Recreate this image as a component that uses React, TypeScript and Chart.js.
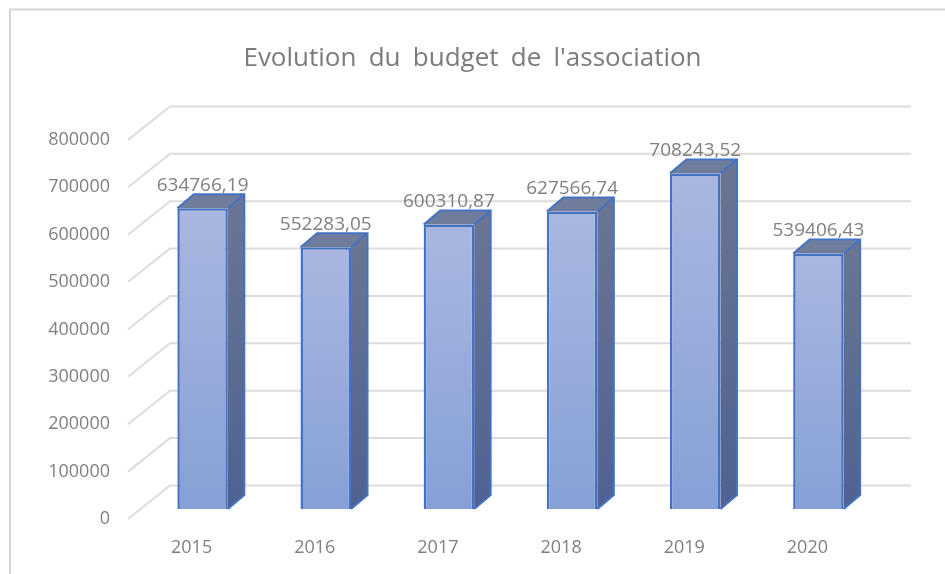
import React, { useEffect, useRef } from "react";
import { Chart, registerables } from "chart.js";

Chart.register(...registerables);

const years = ["2015", "2016", "2017", "2018", "2019", "2020"];
const budget = [634766.19, 552283.05, 600310.87, 627566.74, 708243.52, 539406.43];
const titleText = "Evolution du budget de l'association";

const FONT = "'Open Sans', 'Noto Sans', sans-serif";
const TEXT = "#808080";
const GRID = "#dcdcdc";
const EDGE = "#4472c4";

const frame3d = {
  id: "frame3d",
  beforeDraw(chart: any) {
    const { ctx } = chart;
    ctx.save();
    ctx.strokeStyle = "#d6d6d6";
    ctx.lineWidth = 2;
    ctx.beginPath();
    ctx.moveTo(10, 574);
    ctx.lineTo(10, 9.5);
    ctx.lineTo(945, 9.5);
    ctx.stroke();
    ctx.restore();
    // The reference title has wide gaps between its words.
    ctx.wordSpacing = "5.5px";
  },
  beforeDatasetsDraw(chart: any) {
    const { ctx, scales } = chart;
    ctx.wordSpacing = "0px";
    const y = scales.y;
    ctx.save();
    ctx.lineWidth = 2;
    ctx.strokeStyle = GRID;
    y.ticks.forEach((t: any) => {
      const p = y.getPixelForValue(t.value);
      ctx.beginPath();
      ctx.moveTo(128, p + 10);
      ctx.lineTo(170, p - 23.5);
      ctx.lineTo(911, p - 23.5);
      ctx.stroke();
    });
    // 3D faces of each bar
    const dx = 16.5;
    const dy = 14;
    chart.getDatasetMeta(0).data.forEach((bar: any) => {
      const l = bar.x - bar.width / 2;
      const r = bar.x + bar.width / 2;
      const top = bar.y;
      const base = bar.base;
      const side = ctx.createLinearGradient(0, top - dy, 0, base);
      side.addColorStop(0, "#6b7694");
      side.addColorStop(1, "#4f6292");
      ctx.fillStyle = side;
      ctx.beginPath();
      ctx.moveTo(r, top);
      ctx.lineTo(r + dx, top - dy);
      ctx.lineTo(r + dx, base - dy);
      ctx.lineTo(r, base);
      ctx.closePath();
      ctx.fill();
      ctx.fillStyle = "#707c9c";
      ctx.beginPath();
      ctx.moveTo(l, top);
      ctx.lineTo(l + dx, top - dy);
      ctx.lineTo(r + dx, top - dy);
      ctx.lineTo(r, top);
      ctx.closePath();
      ctx.fill();
      ctx.strokeStyle = EDGE;
      ctx.lineWidth = 2;
      ctx.beginPath();
      ctx.moveTo(l, top);
      ctx.lineTo(l + dx, top - dy);
      ctx.lineTo(r + dx, top - dy);
      ctx.lineTo(r + dx, base - dy);
      ctx.lineTo(r, base);
      ctx.moveTo(r, top);
      ctx.lineTo(r + dx, top - dy);
      ctx.stroke();
    });
    ctx.restore();
  },
  afterDatasetsDraw(chart: any) {
    const { ctx } = chart;
    ctx.save();
    ctx.font = `19px ${FONT}`;
    ctx.fillStyle = TEXT;
    ctx.textAlign = "center";
    ctx.textBaseline = "middle";
    chart.getDatasetMeta(0).data.forEach((bar: any, i: number) => {
      ctx.fillText(budget[i].toFixed(2).replace(".", ","), bar.x, bar.y - 23);
    });
    ctx.restore();
  },
};

export default function App() {
  const ref = useRef<HTMLCanvasElement>(null);
  useEffect(() => {
    document.body.style.margin = "0";
    document.body.style.background = "#ffffff";
    const chart = new Chart(ref.current as HTMLCanvasElement, {
      type: "bar",
      data: {
        labels: years,
        datasets: [
          {
            data: budget,
            yAxisID: "y",
            barPercentage: 0.41,
            categoryPercentage: 1,
            borderColor: EDGE,
            borderWidth: 2.5,
            backgroundColor: (c: any) => {
              const ch = c.chart;
              if (!ch.chartArea || c.dataIndex === undefined) return "#9aabdc";
              const y = ch.scales.y;
              const g = ch.ctx.createLinearGradient(0, y.getPixelForValue(c.raw), 0, y.getPixelForValue(0));
              g.addColorStop(0, "#a9b7e0");
              g.addColorStop(1, "#86a0d6");
              return g;
            },
          },
        ],
      },
      options: {
        responsive: false,
        animation: false,
        layout: { padding: 0 },
        plugins: {
          legend: { display: false },
          tooltip: { enabled: false },
          title: {
            display: true,
            text: titleText,
            color: "#7b7b7b",
            font: { family: FONT, size: 26, weight: "normal" },
            padding: { top: 42.5, bottom: 56.2 },
          },
        },
        scales: {
          x: {
            grid: { display: false, drawTicks: false },
            border: { display: false },
            ticks: { color: TEXT, font: { family: FONT, size: 18 }, padding: 28, labelOffset: -11, maxRotation: 0 },
            afterFit: (s: any) => {
              s.height = 65;
            },
          },
          y: {
            min: 0,
            max: 800000,
            grid: { display: false, drawTicks: false },
            border: { display: false },
            ticks: {
              stepSize: 100000,
              color: TEXT,
              font: { family: FONT, size: 18 },
              padding: 31,
              labelOffset: 10,
              callback: (v: any) => String(v),
            },
            afterFit: (s: any) => {
              s.width = 141;
            },
          },
          spacer: {
            type: "linear",
            position: "right",
            grid: { display: false, drawTicks: false },
            border: { display: false },
            ticks: { display: false },
            afterFit: (s: any) => {
              s.width = 65;
            },
          },
        },
      },
      plugins: [frame3d],
    } as any);
    return () => chart.destroy();
  }, []);
  return <canvas ref={ref} width={945} height={574} style={{ display: "block", filter: "blur(0.4px)" }} />;
}
